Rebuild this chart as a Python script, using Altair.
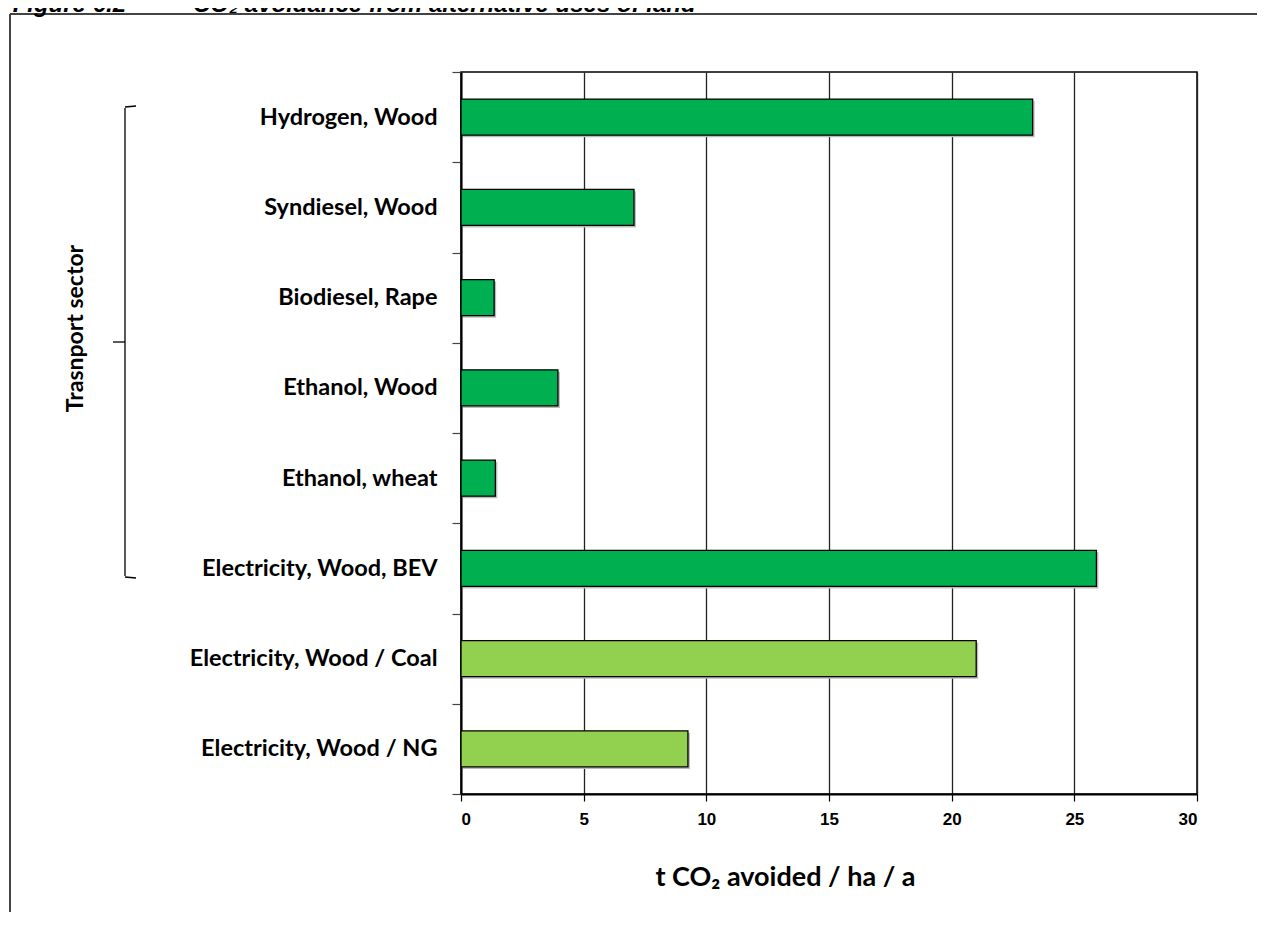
import altair as alt
import pandas as pd

categories = ["Hydrogen, Wood", "Syndiesel, Wood", "Biodiesel, Rape", "Ethanol, Wood",
              "Ethanol, wheat", "Electricity, Wood, BEV", "Electricity, Wood / Coal",
              "Electricity, Wood / NG"]
values = [23.3, 7.05, 1.35, 3.95, 1.4, 25.9, 21.0, 9.25]
groups = ["Transport"] * 6 + ["Power"] * 2
x_ticks = [0, 5, 10, 15, 20, 25, 30]

df = pd.DataFrame({"cat": categories, "val": values, "grp": groups})

LABEL_FONT = "Lato"
TITLE_FONT = "Liberation Sans"

y_enc = alt.Y("cat:N", sort=categories,
              scale=alt.Scale(paddingInner=0, paddingOuter=0),
              axis=alt.Axis(title="Trasnport sector", titleAngle=270, titleX=-386, titleY=256,
                            titleAlign="center", titleBaseline="middle",
                            titleFont=LABEL_FONT, titleFontSize=23, titleFontWeight="bold",
                            titleColor="black",
                            labelFont=LABEL_FONT, labelFontSize=23.5, labelFontWeight="bold",
                            labelColor="black", labelPadding=15, labelLimit=400,
                            tickBand="extent", tickSize=9, tickColor="#444", tickWidth=1.2,
                            domainColor="black", domainWidth=2, grid=False))

x_enc = alt.X("val:Q", scale=alt.Scale(domain=[0, 30], nice=False),
              axis=alt.Axis(values=x_ticks, title="t CO₂ avoided / ha / a",
                            titleFont=LABEL_FONT, titleFontSize=27, titleFontWeight="bold",
                            titleColor="black", titleX=324, titleY=91, titleAlign="center",
                            titleBaseline="alphabetic",
                            labelFont="Liberation Sans", labelFontSize=17,
                            labelFontWeight="bold", labelColor="black", labelPadding=10,
                            tickSize=7, tickColor="black", tickWidth=1.2,
                            domainColor="black", domainWidth=2,
                            grid=True, gridColor="#222", gridWidth=1.3))

base = alt.Chart(df)

shadow = base.mark_bar(height=alt.RelativeBandSize(0.4), xOffset=2, yOffset=2,
                       color="#bbbbbb").encode(x=x_enc, y=y_enc)

bars = base.mark_bar(height=alt.RelativeBandSize(0.4), stroke="black", strokeWidth=1.3).encode(
    x=x_enc, y=y_enc,
    color=alt.Color("grp:N", scale=alt.Scale(domain=["Transport", "Power"],
                                             range=["#00B050", "#92D050"]), legend=None))

one = pd.DataFrame({"k": [0]})


def rule(x, x2, y, y2, color="black", width=1.3):
    return alt.Chart(one).mark_rule(color=color, strokeWidth=width).encode(
        x=alt.value(x), x2=alt.value(x2), y=alt.value(y), y2=alt.value(y2))


bracket = [
    rule(-336, -336, 36, 504),
    rule(-336, -325, 35, 34),
    rule(-336, -325, 505, 506),
    rule(-348, -336, 270, 270),
]

frame = [
    rule(-451, -451, -58, 860, color="#444", width=2),
    rule(-451, 830, -58, -58, color="#444", width=2),
]

title_left = alt.Chart(one).mark_text(text="Figure 6.2", font=TITLE_FONT, fontSize=24,
                                      fontWeight="bold", fontStyle="italic", align="right",
                                      baseline="alphabetic", color="black").encode(
    x=alt.value(-335), y=alt.value(-60))
title_right = alt.Chart(one).mark_text(text="CO₂ avoidance from alternative uses of land",
                                       font=TITLE_FONT, fontSize=24, fontWeight="bold",
                                       fontStyle="italic", align="left",
                                       baseline="alphabetic", color="black").encode(
    x=alt.value(-268), y=alt.value(-60))

chart = alt.layer(shadow, bars, *bracket, *frame, title_left, title_right).properties(
    width=736, height=722,
    padding={"left": 453, "top": 64, "right": 60, "bottom": 118},
    autosize=alt.AutoSizeParams(type="none"),
).configure_view(stroke="black", strokeWidth=1.5)

chart.save("out.html", embed_options={"renderer": "svg", "actions": False})
